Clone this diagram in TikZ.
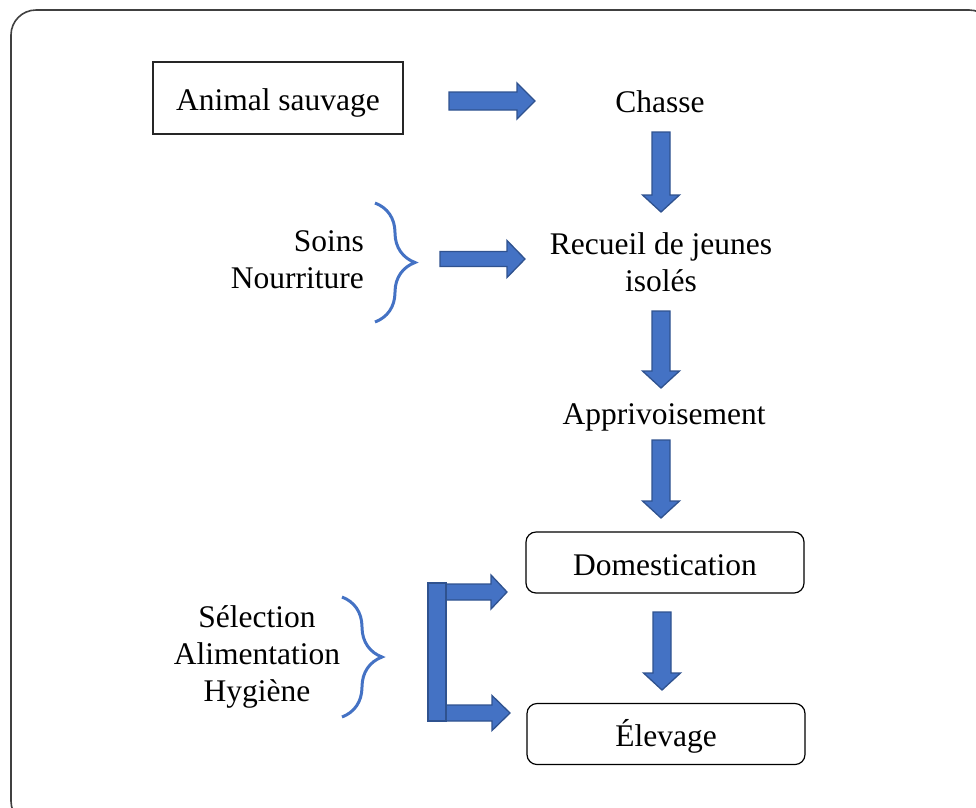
\documentclass[tikz,border=0pt]{standalone}
\usepackage{fontspec}
\setmainfont{Liberation Serif}
\usetikzlibrary{decorations.pathreplacing}
\definecolor{arrfill}{HTML}{4472C4}
\definecolor{arrdraw}{HTML}{2F528F}
\definecolor{framecol}{HTML}{404040}
\tikzset{
  lbl/.style={font=\fontsize{31.5}{37}\selectfont, inner sep=0pt},
  plainbox/.style={lbl, draw=black!85, line width=1.2pt, minimum width=250pt, minimum height=72pt},
  roundbox/.style={lbl, draw=black, line width=1.2pt, rounded corners=10pt, minimum width=278pt, minimum height=61pt},
  blk/.style={fill=arrfill, draw=arrdraw, line width=1.3pt, line join=miter},
  bracestyle/.style={draw=arrfill, line width=3pt, decorate, decoration={brace, amplitude=40pt}}
}
% right block arrow: start x, tip x, y centre, shaft half, head half, head length
\newcommand\blkRight[6]{\filldraw[blk] (#1,#3-#4) -- (#2-#6,#3-#4) -- (#2-#6,#3-#5) -- (#2,#3) -- (#2-#6,#3+#5) -- (#2-#6,#3+#4) -- (#1,#3+#4) -- cycle;}
% down block arrow: x centre, top y, tip y
\newcommand\blkDown[3]{\filldraw[blk] (#1-9,#2) -- (#1+9,#2) -- (#1+9,#3-17) -- (#1+18.5,#3-17) -- (#1,#3) -- (#1-18.5,#3-17) -- (#1-9,#3-17) -- cycle;}
\begin{document}
\begin{tikzpicture}[x=1pt,y=-1pt]
\useasboundingbox (0,0) rectangle (976,807);
\begin{scope}
  \clip (0,0) rectangle (976,807);
  \draw[framecol, line width=1.6pt, rounded corners=25pt] (11,10) rectangle (994,826);
\end{scope}

% nodes
\node[plainbox, text height=29pt, text depth=4pt] (animal) at (278,98) {Animal sauvage};
\node[lbl] (chasse) at (660,102) {Chasse};
\node[lbl, align=center] (recueil) at (661,262) {Recueil de jeunes\\isolés};
\node[lbl] (appriv) at (664,417) {Apprivoisement};
\node[roundbox, text height=25.5pt, text depth=0pt] (domest) at (665,562.5) {Domestication};
\node[roundbox, text height=31pt, text depth=6pt] (elevage) at (666,734) {Élevage};
\node[lbl, align=right, anchor=east] (soins) at (364,260) {Soins\\Nourriture};
\node[lbl, align=center] (selection) at (257,657) {Sélection\\Alimentation\\Hygiène};

% braces
\coordinate (b1t) at (375,203);
\coordinate (b1b) at (375,322);
\draw[bracestyle] (b1t) -- (b1b);
\coordinate (b2t) at (342,597);
\coordinate (b2b) at (342,717);
\draw[bracestyle] (b2t) -- (b2b);

% block arrows
\blkRight{449}{535}{101}{9}{18}{18}
\blkRight{440}{525}{259}{7.5}{18.5}{18}
\blkDown{661}{132}{212}
\blkDown{661}{311}{388}
\blkDown{661}{440}{518}
\blkDown{662}{612}{690}

% bracket arrow
\blkRight{437}{507}{592}{8}{17}{16}
\blkRight{437}{510}{713}{8}{17.5}{18}
\filldraw[blk] (428,583) rectangle (446,721);
\end{tikzpicture}
\end{document}
